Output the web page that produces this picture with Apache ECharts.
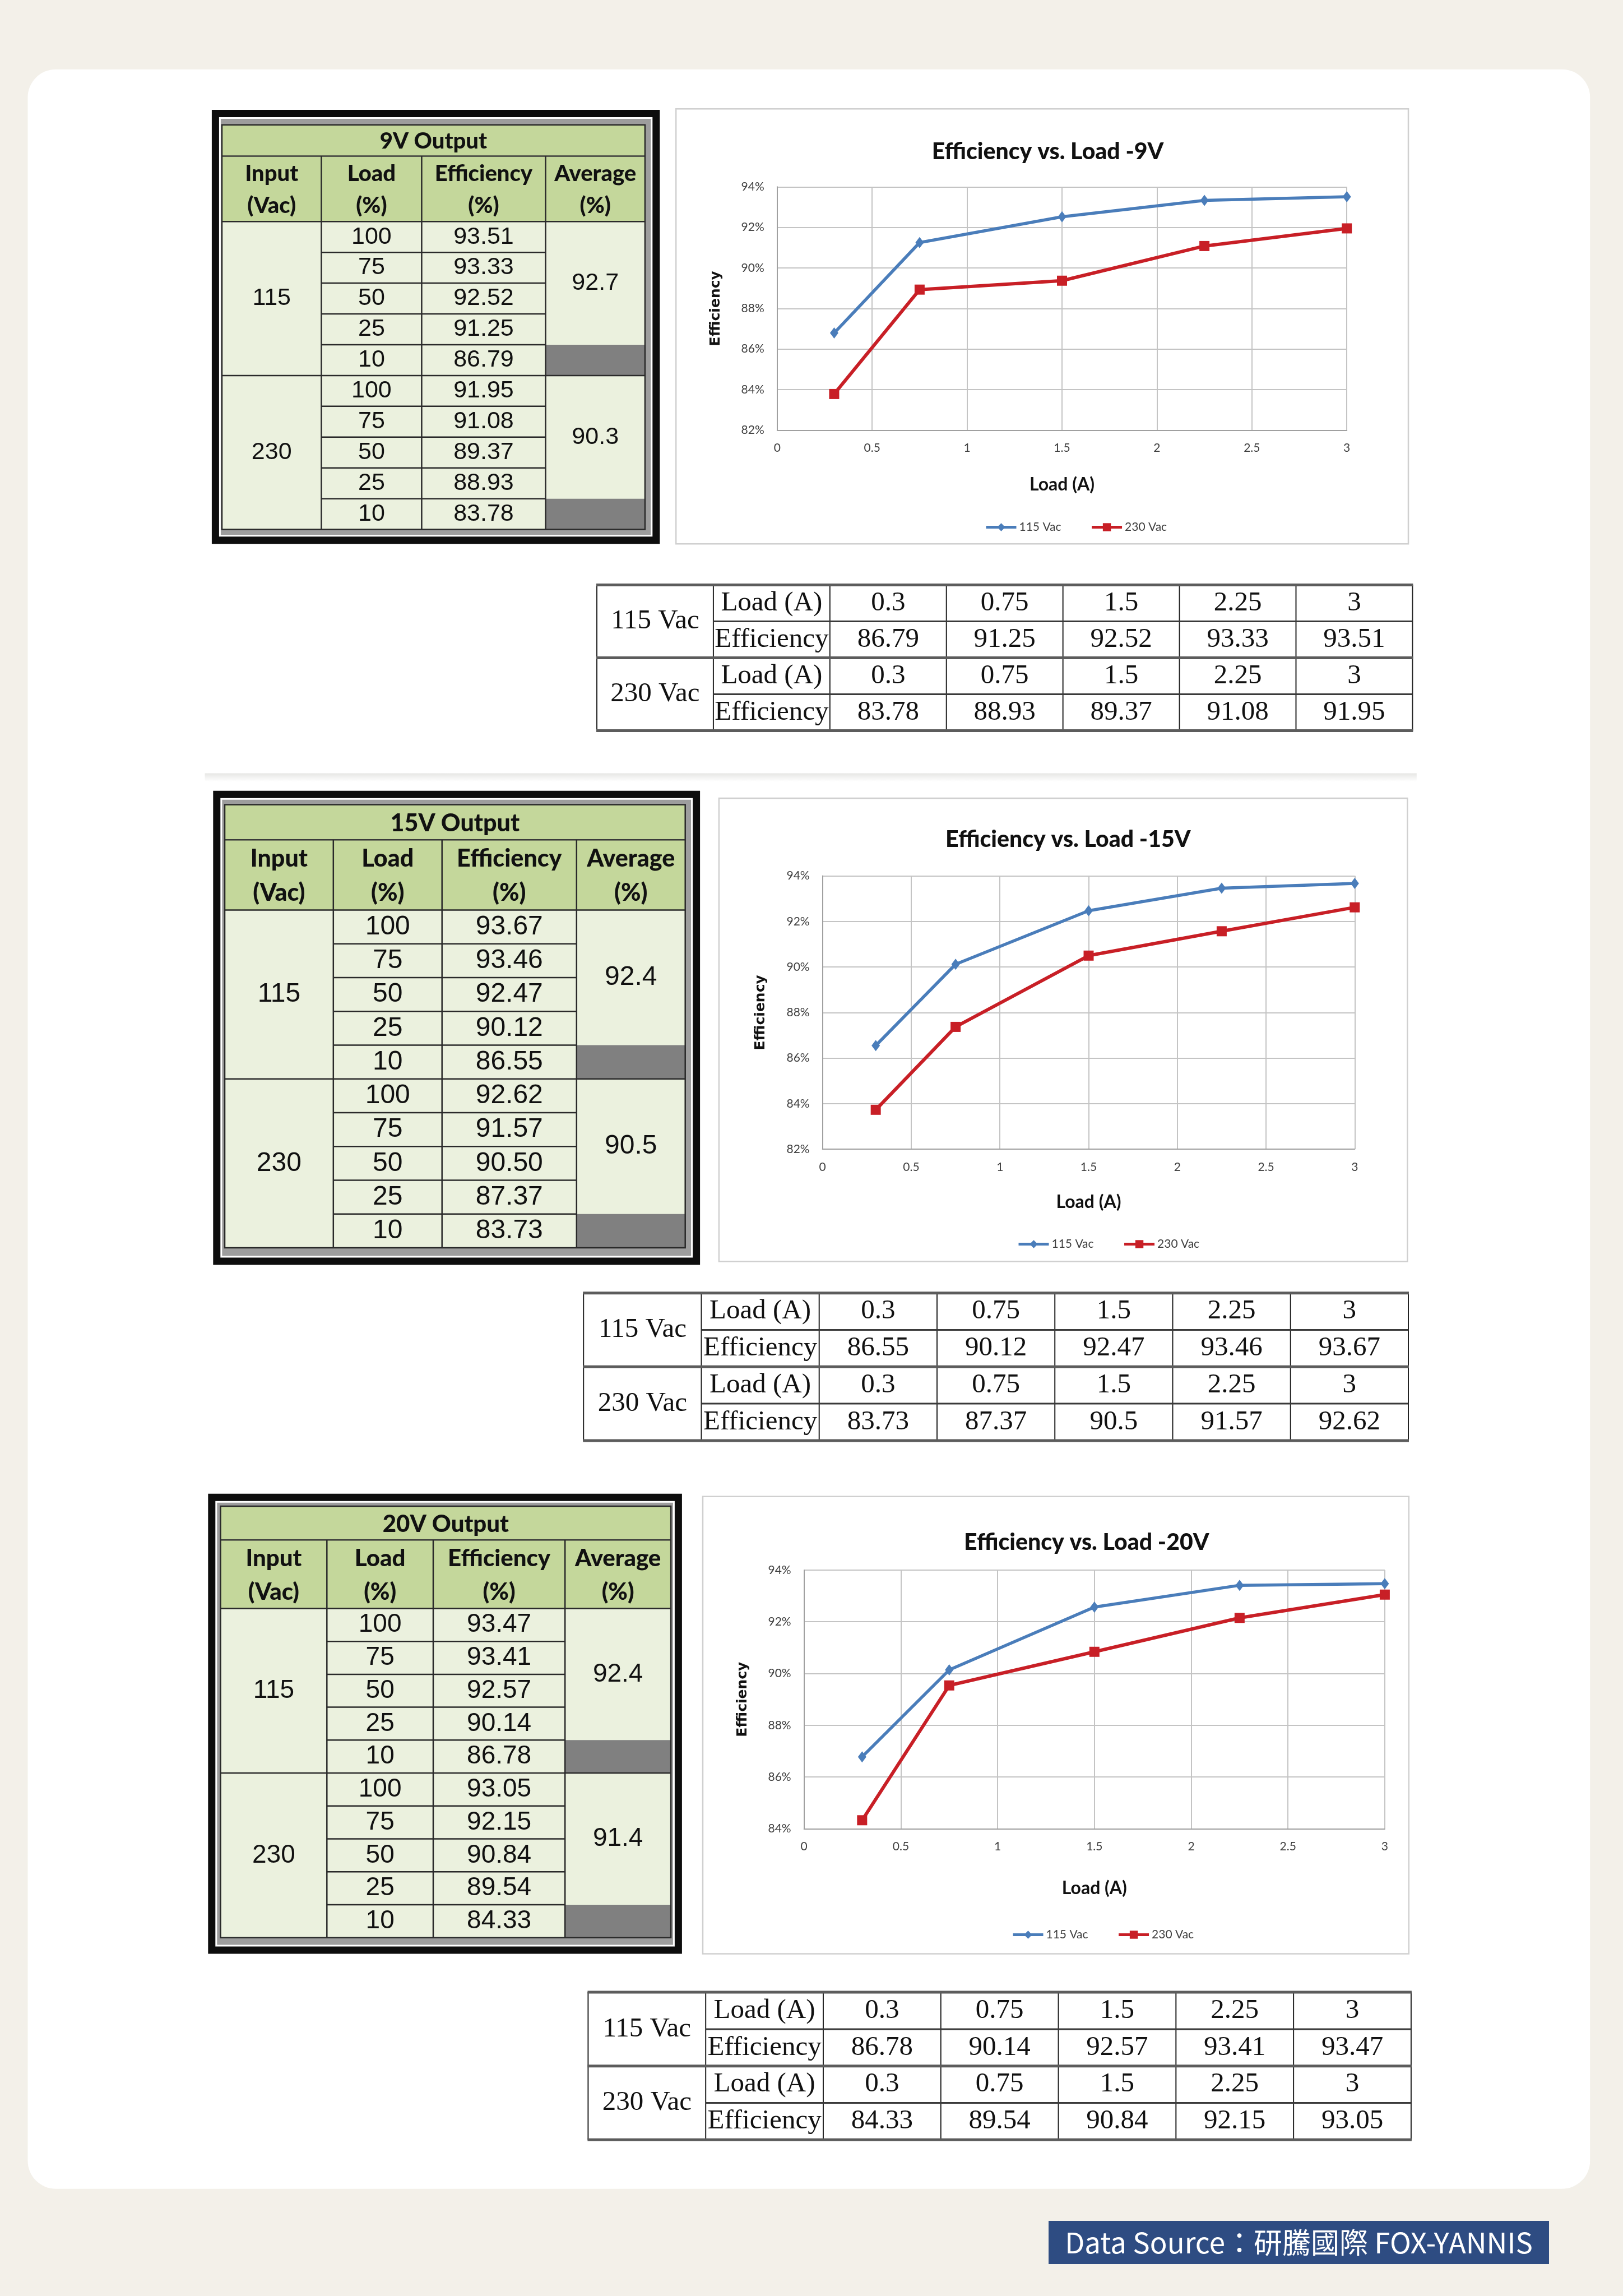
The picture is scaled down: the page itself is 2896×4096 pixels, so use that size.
<!DOCTYPE html>
<html>
<head>
<meta charset="utf-8">
<script src="https://cdn.jsdelivr.net/npm/echarts@6/dist/echarts.min.js"></script>
<style>
html,body{margin:0;padding:0;background:#F3F0E9;}
#c{width:2896px;height:4096px;}
</style>
</head>
<body>
<div id="c"></div>
<script>
// ---------------- DATA ----------------
const outputs = ['9V', '15V', '20V'];
const seriesNames = ['115 Vac', '230 Vac'];
const inputs = ['115', '230'];
const loadsA = [0.3, 0.75, 1.5, 2.25, 3];
const loadPct = [100, 75, 50, 25, 10];
const tableHeaders = ['Input\n(Vac)', 'Load\n(%)', 'Efficiency\n(%)', 'Average\n(%)'];
const dtRowLabels = ['Load (A)', 'Efficiency'];
const eff9_115 = [86.79, 91.25, 92.52, 93.33, 93.51];
const eff9_230 = [83.78, 88.93, 89.37, 91.08, 91.95];
const eff15_115 = [86.55, 90.12, 92.47, 93.46, 93.67];
const eff15_230 = [83.73, 87.37, 90.5, 91.57, 92.62];
const eff20_115 = [86.78, 90.14, 92.57, 93.41, 93.47];
const eff20_230 = [84.33, 89.54, 90.84, 92.15, 93.05];
const avg9 = [92.7, 90.3];
const avg15 = [92.4, 90.5];
const avg20 = [92.4, 91.4];
const yMins = [82, 82, 84];
const yMax = 94;
const footerText = 'Data Source：研騰國際 FOX-YANNIS';

const effs = [[eff9_115, eff9_230], [eff15_115, eff15_230], [eff20_115, eff20_230]];
const avgs = [avg9, avg15, avg20];
const colors = ['#4A7DBA', '#C81F26'];

// ---------------- LAYOUT ----------------
const SEC = [
  { big: { outer: [377.9, 195.9, 1177.3, 970.2], xs: [396, 573.4, 752.4, 973.5, 1150.9], ys: [222.75, 278.4, 395.2, 944.6] },
    box: [1206.2, 194.3, 2513, 970.2],
    grid: { left: 1386.8, top: 333.3, width: 1016.4, height: 434 },
    title: [1869.5, 270.6],
    dt: [1065, 1043.6, 2520.4, 1303.5],
    legend: { left: 1752, top: 925 },
    xNameGap: 81, yNameGap: 97, xMargin: 21 },
  { big: { outer: [380.3, 1410.8, 1249.1, 2256.4], xs: [401, 594.8, 788.7, 1028.8, 1222.7], ys: [1435.5, 1498.2, 1623.6, 2225.9] },
    box: [1282.9, 1424, 2511.3, 2250.6],
    grid: { left: 1467.7, top: 1562.6, width: 949.6, height: 487.5 },
    title: [1905.8, 1497.4],
    dt: [1041.2, 2306.7, 2513, 2569.9],
    legend: { left: 1810, top: 2204 },
    xNameGap: 79, yNameGap: 98, xMargin: 22 },
  { big: { outer: [371.3, 2664.8, 1216.9, 3485.6], xs: [393.5, 583.3, 773, 1008.2, 1197.1], ys: [2687, 2747.3, 2869.4, 3456.8] },
    box: [1254, 2669.7, 2513.8, 3485.6],
    grid: { left: 1434.7, top: 2800.9, width: 1036.2, height: 461.6 },
    title: [1938.8, 2751.4],
    dt: [1049.4, 3554.1, 2517.9, 3817.3],
    legend: { left: 1800, top: 3436 },
    xNameGap: 90, yNameGap: 97, xMargin: 21 }
];

// ---------------- HELPERS ----------------
const G = [];
function rc(x, y, w, h, fill, z, extra) {
  return Object.assign({ type: 'rect', z: z, shape: { x: x, y: y, width: w, height: h }, style: { fill: fill } }, extra || {});
}
function ln(x1, y1, x2, y2, w, c, z) {
  return { type: 'line', z: z || 4, shape: { x1: x1, y1: y1, x2: x2, y2: y2 }, style: { stroke: c || '#222', lineWidth: w || 2 } };
}
function tx(x, y, text, font, extraStyle) {
  return { type: 'text', z: 6, x: x, y: y,
    style: Object.assign({ text: String(text), font: font, fill: '#111', align: 'center', verticalAlign: 'middle' }, extraStyle || {}) };
}

// background card
G.push(rc(49.5, 123.75, 2787.7, 3781, '#ffffff', -10, { shape: { x: 49.5, y: 123.75, width: 2787.7, height: 3781, r: 50 } }));
// separator band
G.push({ type: 'rect', z: -9, shape: { x: 365.5, y: 1379.4, width: 2162.3, height: 15 },
  style: { fill: { type: 'linear', x: 0, y: 0, x2: 0, y2: 1, colorStops: [{ offset: 0, color: '#E6E6E4' }, { offset: 1, color: '#ffffff' }] } } });

function bigTable(s, i) {
  const o = s.big.outer, xs = s.big.xs, ys = s.big.ys;
  const rowH = (ys[3] - ys[2]) / 10;
  const W = o[2] - o[0], H = o[3] - o[1];
  G.push(rc(o[0], o[1], W, H, '#0d0d0d', 1));
  G.push(rc(o[0] + 13, o[1] + 13, W - 26, H - 26, '#ffffff', 1));
  G.push(rc(o[0] + 16, o[1] + 16, W - 32, H - 32, '#9d9d9d', 1));
  G.push(rc(xs[0], ys[0], xs[4] - xs[0], ys[2] - ys[0], '#C4D79B', 2));
  G.push(rc(xs[0], ys[2], xs[4] - xs[0], ys[3] - ys[2], '#EBF1DE', 2));
  for (let g = 0; g < 2; g++) {
    G.push(rc(xs[3], ys[2] + (g * 5 + 4) * rowH, xs[4] - xs[3], rowH, '#808080', 3));
  }
  G.push(ln(xs[0], ys[1], xs[4], ys[1], 2.5, '#3a3a3a'));
  G.push(ln(xs[0], ys[2], xs[4], ys[2], 2.5, '#2a2a2a'));
  for (let c = 1; c <= 3; c++) G.push(ln(xs[c], ys[1], xs[c], ys[3], 2.5, '#2a2a2a'));
  G.push(ln(xs[0], ys[2] + 5 * rowH, xs[4], ys[2] + 5 * rowH, 2.5, '#2a2a2a'));
  for (let r = 1; r < 10; r++) {
    if (r === 5) continue;
    G.push(ln(xs[1], ys[2] + r * rowH, xs[3], ys[2] + r * rowH, 2.5, '#2a2a2a'));
  }
  G.push({ type: 'rect', z: 4, shape: { x: xs[0], y: ys[0], width: xs[4] - xs[0], height: ys[3] - ys[0] }, style: { fill: null, stroke: '#2a2a2a', lineWidth: 2.5 } });
  const hf = Math.round(rowH * 0.72);
  const df = Math.round(rowH * 0.79);
  G.push(tx((xs[0] + xs[4]) / 2, (ys[0] + ys[1]) / 2 + 2, outputs[i] + ' Output', '900 ' + hf + 'px Lato'));
  const lh = (ys[2] - ys[1]) * 0.49;
  for (let c = 0; c < 4; c++) {
    G.push(tx((xs[c] + xs[c + 1]) / 2, (ys[1] + ys[2]) / 2 + 2, tableHeaders[c], '900 ' + hf + 'px Lato', { lineHeight: lh }));
  }
  const dfont = df + 'px "Liberation Sans", Arial, sans-serif';
  for (let g = 0; g < 2; g++) {
    G.push(tx((xs[0] + xs[1]) / 2, ys[2] + (g * 5 + 2.5) * rowH, inputs[g], dfont));
    for (let r = 0; r < 5; r++) {
      const cy = ys[2] + (g * 5 + r + 0.5) * rowH;
      G.push(tx((xs[1] + xs[2]) / 2, cy, loadPct[r], dfont));
      G.push(tx((xs[2] + xs[3]) / 2, cy, effs[i][g][4 - r].toFixed(2), dfont));
    }
    G.push(tx((xs[3] + xs[4]) / 2, ys[2] + (g * 5 + 2) * rowH, avgs[i][g], dfont));
  }
}

function dataTable(s, i) {
  const d = s.dt;
  const cw = (d[2] - d[0]) / 7, rh = (d[3] - d[1]) / 4;
  G.push(rc(d[0], d[1], d[2] - d[0], d[3] - d[1], '#ffffff', 1));
  for (let c = 0; c <= 7; c++) G.push(ln(d[0] + c * cw, d[1], d[0] + c * cw, d[3], 2, '#222'));
  for (let g = 0; g < 2; g++) G.push(ln(d[0] + cw, d[1] + (2 * g + 1) * rh, d[2], d[1] + (2 * g + 1) * rh, 3, '#3a3a3a'));
  for (const k of [0, 2, 4]) G.push(ln(d[0] - 1, d[1] + k * rh, d[2] + 1, d[1] + k * rh, 5, '#5c5c5c'));
  const f = '49px "Liberation Serif", "Times New Roman", serif';
  for (let g = 0; g < 2; g++) {
    G.push(tx(d[0] + cw / 2, d[1] + (2 * g + 1) * rh, seriesNames[g], f));
    G.push(tx(d[0] + cw * 1.5, d[1] + (2 * g + 0.5) * rh, dtRowLabels[0], f));
    G.push(tx(d[0] + cw * 1.5, d[1] + (2 * g + 1.5) * rh, dtRowLabels[1], f));
    for (let j = 0; j < 5; j++) {
      G.push(tx(d[0] + cw * (j + 2.5), d[1] + (2 * g + 0.5) * rh, String(loadsA[j]), f));
      G.push(tx(d[0] + cw * (j + 2.5), d[1] + (2 * g + 1.5) * rh, String(effs[i][g][j]), f));
    }
  }
}

SEC.forEach(function (s, i) {
  bigTable(s, i);
  dataTable(s, i);
  const b = s.box;
  G.push({ type: 'rect', z: 0, shape: { x: b[0], y: b[1], width: b[2] - b[0], height: b[3] - b[1] }, style: { fill: '#ffffff', stroke: '#D0D0D0', lineWidth: 2.5 } });
  G.push(tx(s.title[0], s.title[1], 'Efficiency vs. Load -' + outputs[i], '900 41px Lato'));
});

// footer
G.push(rc(1871, 3962, 893, 77, '#2E4C82', 1));
G.push(tx(2317.5, 4001, footerText, '51px "Noto Sans CJK TC", "Noto Sans", sans-serif', { fill: '#ffffff' }));

// ---------------- CHART COMPONENTS ----------------
const grid = SEC.map(function (s) { return { left: s.grid.left, top: s.grid.top, width: s.grid.width, height: s.grid.height, containLabel: false }; });
const xAxis = SEC.map(function (s, i) {
  return { type: 'value', gridIndex: i, min: 0, max: 3, interval: 0.5,
    name: 'Load (A)', nameLocation: 'middle', nameGap: s.xNameGap,
    nameTextStyle: { fontFamily: 'Lato', fontWeight: 'bold', fontSize: 32, color: '#111' },
    axisLine: { show: true, onZero: false, lineStyle: { color: '#A0A0A0', width: 2 } },
    axisTick: { show: false },
    axisLabel: { margin: s.xMargin, fontFamily: 'Lato', fontSize: 21, color: '#404040' },
    splitLine: { show: true, lineStyle: { color: '#C4C4C4', width: 2 } } };
});
const yAxis = SEC.map(function (s, i) {
  return { type: 'value', gridIndex: i, min: yMins[i], max: yMax, interval: 2,
    name: 'Efficiency', nameLocation: 'middle', nameRotate: 90, nameGap: s.yNameGap,
    nameTextStyle: { fontFamily: 'DejaVu Sans', fontWeight: 'bold', fontSize: 25, color: '#111' },
    axisLine: { show: true, onZero: false, lineStyle: { color: '#A0A0A0', width: 2 } },
    axisTick: { show: false },
    axisLabel: { margin: 23, fontFamily: 'Lato', fontSize: 21, color: '#404040', formatter: '{value}%' },
    splitLine: { show: true, lineStyle: { color: '#C4C4C4', width: 2 } } };
});
const series = [];
SEC.forEach(function (s, i) {
  [0, 1].forEach(function (g) {
    series.push({ type: 'line', name: seriesNames[g], xAxisIndex: i, yAxisIndex: i,
      data: loadsA.map(function (x, j) { return [x, effs[i][g][j]]; }),
      symbol: g ? 'rect' : 'diamond', symbolSize: g ? 18 : [15, 20],
      showSymbol: true,
      lineStyle: { width: g ? 6 : 5.5, color: colors[g] },
      itemStyle: { color: colors[g] },
      animation: false });
  });
});
const legend = SEC.map(function (s) {
  return { left: s.legend.left, top: s.legend.top, orient: 'horizontal', itemWidth: 54, itemHeight: 18, itemGap: 52,
    selectedMode: false, lineStyle: { width: 5 },
    textStyle: { fontFamily: 'Lato', fontSize: 21, color: '#404040' }, data: seriesNames };
});

const chart = echarts.init(document.getElementById('c'), null, { renderer: 'canvas', width: 2896, height: 4096 });
chart.setOption({
  backgroundColor: '#F3F0E9',
  animation: false,
  graphic: { elements: G },
  grid: grid, xAxis: xAxis, yAxis: yAxis, legend: legend, series: series
});
</script>
</body>
</html>
